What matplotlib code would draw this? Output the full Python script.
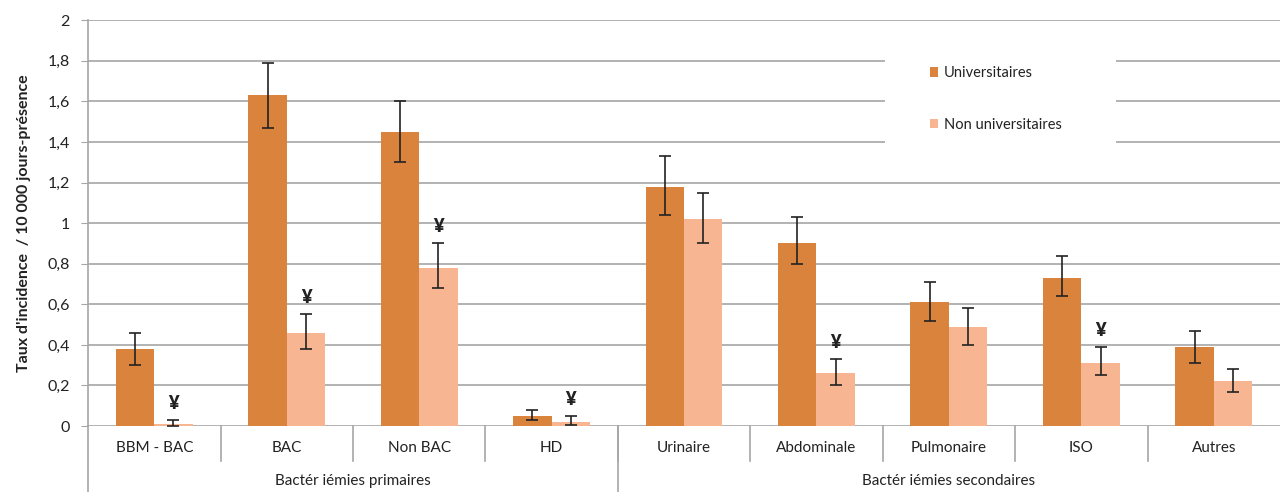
import matplotlib.pyplot as plt
import numpy as np
from matplotlib.ticker import FuncFormatter
from matplotlib.patches import Rectangle

plt.rcParams['font.family'] = ['Lato', 'DejaVu Sans']

categories = ["BBM - BAC", "BAC", "Non BAC", "HD",
              "Urinaire", "Abdominale", "Pulmonaire", "ISO", "Autres"]
groups = ["Bactér iémies primaires", "Bactér iémies secondaires"]
group_sizes = [4, 5]

univ = [0.38, 1.63, 1.45, 0.05, 1.18, 0.90, 0.61, 0.73, 0.39]
univ_lo = [0.30, 1.47, 1.30, 0.03, 1.04, 0.80, 0.52, 0.64, 0.31]
univ_hi = [0.46, 1.79, 1.60, 0.08, 1.33, 1.03, 0.71, 0.84, 0.47]

non_univ = [0.01, 0.46, 0.78, 0.02, 1.02, 0.26, 0.49, 0.31, 0.22]
non_lo = [0.00, 0.38, 0.68, 0.005, 0.90, 0.20, 0.40, 0.25, 0.17]
non_hi = [0.03, 0.55, 0.90, 0.05, 1.15, 0.33, 0.58, 0.39, 0.28]

# ¥ = différence significative
signif = [True, True, True, True, False, True, False, True, False]

c_univ = "#DA833C"
c_non = "#F8B592"
grid_c = "#A6A6A6"
txt_c = "#222222"

fig = plt.figure(figsize=(12.8, 4.92), dpi=100)
ax = fig.add_axes([0.0688, 0.134, 0.9312, 0.825])

x = np.arange(len(categories))
w = 0.29

u = np.array(univ)
n = np.array(non_univ)
ax.bar(x - w / 2, u, w, color=c_univ, label="Universitaires", zorder=2)
ax.bar(x + w / 2, n, w, color=c_non, label="Non universitaires", zorder=2)
ax.errorbar(x - w / 2, u, yerr=[u - np.array(univ_lo), np.array(univ_hi) - u],
            fmt="none", ecolor=txt_c, elinewidth=1.2, capsize=4, capthick=1.2, zorder=3)
ax.errorbar(x + w / 2, n, yerr=[n - np.array(non_lo), np.array(non_hi) - n],
            fmt="none", ecolor=txt_c, elinewidth=1.2, capsize=4, capthick=1.2, zorder=3)

for i, s in enumerate(signif):
    if s:
        ax.text(x[i] + w / 2, non_hi[i] + 0.04, "¥", ha="center", va="bottom",
                fontsize=13, fontweight="heavy", color=txt_c, zorder=4)

ax.set_xlim(-0.5, len(categories) - 0.5)
ax.set_ylim(0, 2)
ax.set_yticks(np.arange(0, 2.01, 0.2))
ax.yaxis.set_major_formatter(FuncFormatter(
    lambda v, p: ("%g" % round(v, 1)).replace(".", ",")))
ax.tick_params(axis="y", length=5, color=grid_c, labelsize=11.5, labelcolor=txt_c, pad=8)
ax.tick_params(axis="x", length=0)
ax.set_xticks([])
ax.grid(axis="y", color=grid_c, linewidth=1.2, zorder=0)
ax.set_axisbelow(True)
for side in ["top", "right", "bottom"]:
    ax.spines[side].set_visible(False)
ax.spines["left"].set_color(grid_c)
ax.spines["left"].set_linewidth(1.2)

ax.set_ylabel("Taux d'incidence  / 10 000 jours-présence", fontsize=11.5,
              fontweight="bold", color=txt_c, labelpad=12)

# category labels and separators below the axis
trans = ax.get_xaxis_transform()
for i, c in enumerate(categories):
    ax.text(x[i], -0.055, c, transform=trans, ha="center", va="center",
            fontsize=11, color=txt_c)
for b in range(1, len(categories)):
    ax.plot([b - 0.5, b - 0.5], [0, -0.085], transform=trans, color=grid_c,
            linewidth=1.2, clip_on=False)
ax.plot([-0.5, -0.5], [0, -0.165], transform=trans, color=grid_c,
        linewidth=1.2, clip_on=False)

start = 0
for g, size in zip(groups, group_sizes):
    ax.text(start - 0.5 + size / 2, -0.135, g, transform=trans, ha="center",
            va="center", fontsize=11, color=txt_c)
    start += size
    if start < len(categories):
        ax.plot([start - 0.5, start - 0.5], [0, -0.165], transform=trans,
                color=grid_c, linewidth=1.2, clip_on=False)

# white area behind the legend hides the gridlines
ax.add_patch(Rectangle((0.669, 0.6625), 0.193, 0.27, transform=ax.transAxes,
                       facecolor="white", edgecolor="none", zorder=1))
leg = ax.legend(loc="upper left", bbox_to_anchor=(0.706, 0.887), frameon=False,
                fontsize=10.5, handlelength=0.6, handleheight=0.6, labelspacing=2.6,
                borderpad=0, handletextpad=0.4, borderaxespad=0)
for t in leg.get_texts():
    t.set_color(txt_c)

fig.savefig("out.png", dpi=100)
